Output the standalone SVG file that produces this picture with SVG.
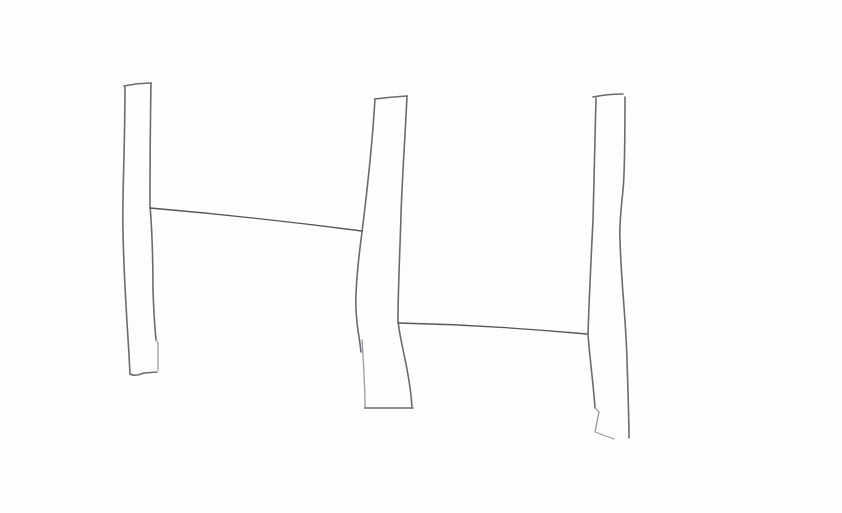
<svg xmlns="http://www.w3.org/2000/svg" width="842" height="513" viewBox="0 0 842 513">
<style>
.pen{fill:none;stroke:#6a6a72;stroke-width:1.6;stroke-linecap:round;stroke-linejoin:round}
.lite{fill:none;stroke:#9a9aa2;stroke-width:1.3;stroke-linecap:round;stroke-linejoin:round}
.link{fill:none;stroke:#55555c;stroke-width:1.3;stroke-linecap:round}
</style>
<rect x="0" y="0" width="842" height="513" fill="#fdfdfd"/>
<g id="bar1">
<path class="pen" d="M124,86 Q137,83 151,83"/>
<path class="pen" d="M125,87 C125,150 122,200 123,230 C124,290 128,330 130,374"/>
<path class="pen" d="M151,83 C150,140 150,180 150,205 C152,230 153,260 153,290 C154,320 155,330 156,340"/>
<path class="lite" d="M156,340 L158,343 L158,370"/>
<path class="pen" d="M130,374 Q134,377 144,373 L157,372"/>
</g>
<g id="bar2">
<path class="pen" d="M375,99 Q390,97 407,96"/>
<path class="pen" d="M375,99 C372,150 366,200 362,232 C358,262 355,290 356,310 C357,330 360,340 361,352"/>
<path class="lite" d="M362,340 C364,370 365,390 365,408"/>
<path class="pen" d="M407,96 C405,140 402,180 401,215 C400,250 398,290 398,320 C400,345 410,370 412,407"/>
<path class="pen" d="M365,408 L413,408"/>
</g>
<g id="bar3">
<path class="pen" d="M593,97 Q607,94 623,94"/>
<path class="pen" d="M596,98 C595,150 594,190 593,220 C591,260 589,300 588,335 C590,360 594,390 595,408"/>
<path class="lite" d="M595,408 L599,412 L595,432 L614,439"/>
<path class="pen" d="M625,97 C625,140 625,170 623,190 C621,210 619,225 620,240 C621,280 626,320 627,360 C628,390 629,420 629,438"/>
</g>
<g id="connectors">
<path class="link" d="M150,208 Q255,217 362,231"/>
<path class="link" d="M398,323 Q490,325 587,334"/>
</g>
</svg>
